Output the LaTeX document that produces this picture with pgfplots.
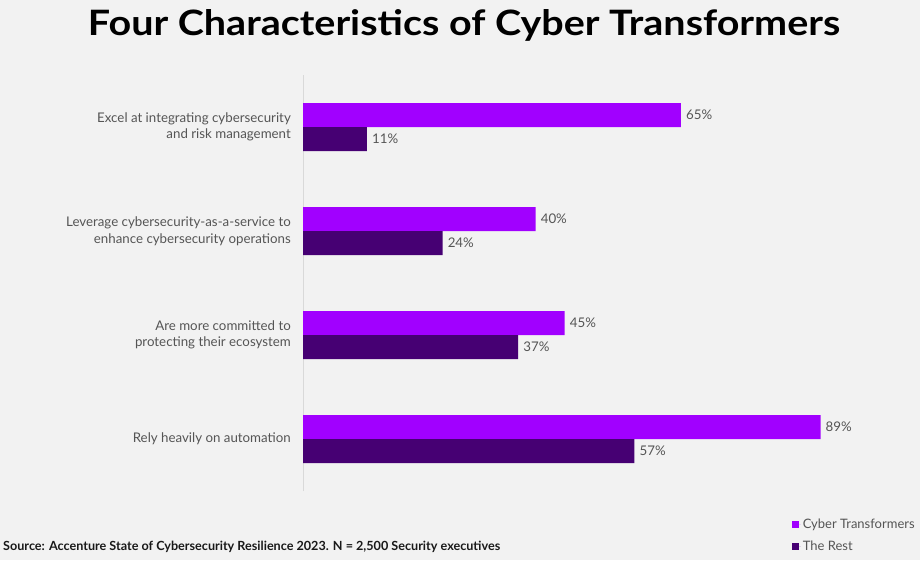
\documentclass[border=0pt]{standalone}
\usepackage{pgfplots}
\pgfplotsset{compat=1.18}
\usepackage{fontspec}
\setmainfont{Lato}
\definecolor{bg}{HTML}{F2F2F2}
\definecolor{ct}{HTML}{A100FF}
\definecolor{rest}{HTML}{460073}
\definecolor{lbl}{HTML}{555555}
\definecolor{axl}{HTML}{D9D9D9}
\begin{document}
\begin{tikzpicture}[x=1pt,y=1pt]
\useasboundingbox (0,0) rectangle (920,560);
\fill[bg] (0,0) rectangle (920,560);
\node[anchor=base, inner sep=0] at (464,524) {\resizebox{752pt}{26pt}{\bfseries Four Characteristics of Cyber Transformers}};
\node[anchor=base west, inner sep=0, text=black!90] at (3,10) {\resizebox{497pt}{!}{\bfseries Source: Accenture State of Cybersecurity Resilience 2023. N = 2,500 Security executives}};
\begin{axis}[
  at={(303pt,69pt)}, anchor=south west,
  scale only axis, width=581.5pt, height=416pt,
  xmin=0, xmax=100, ymin=-0.5, ymax=3.5,
  xbar, bar width=24pt,
  axis x line=none,
  axis y line=left,
  y axis line style={-, draw=axl, line width=0.8pt},
  ytick={0,1,2,3},
  yticklabels={Rely heavily on automation, {Are more committed to\\protecting their ecosystem}, {Leverage cybersecurity-as-a-service to\\enhance cybersecurity operations}, {Excel at integrating cybersecurity\\and risk management}},
  major tick length=0pt,
  yticklabel style={align=right, font=\fontsize{13.3}{16.5}\selectfont, text=lbl, inner sep=0pt, xshift=-12pt},
  /pgf/number format/assume math mode=true,
  nodes near coords={\pgfmathprintnumber{\pgfplotspointmeta}\%},
  every node near coord/.append style={anchor=west, inner sep=0pt, xshift=5pt, font=\fontsize{13.3}{15}\selectfont, text=lbl},
  legend image code/.code={\fill[#1, draw=none] (0pt,-3pt) rectangle (6.5pt,3.5pt); \path (0pt,0pt) -- (8.5pt,0pt);},
  legend style={at={(axis description cs:0.841,-0.062)}, anchor=north west, draw=none, fill=none, font=\fontsize{13}{15}\selectfont, text=lbl, row sep=7pt, inner sep=0pt},
  legend cell align=left,
]
\addplot[fill=ct, draw=none, bar shift=12pt] coordinates {(65,3) (40,2) (45,1) (89,0)};
\addplot[fill=rest, draw=none, bar shift=-12pt] coordinates {(11,3) (24,2) (37,1) (57,0)};
\legend{Cyber Transformers, The Rest}
\end{axis}
\end{tikzpicture}
\end{document}
